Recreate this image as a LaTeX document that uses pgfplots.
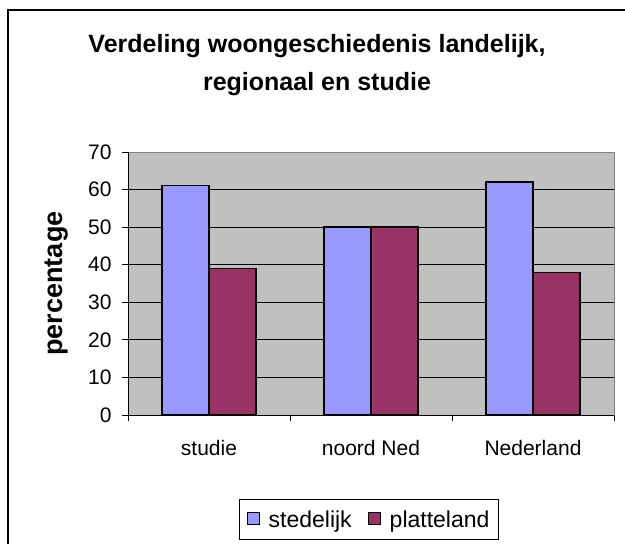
\documentclass[border=0pt]{standalone}
\usepackage{pgfplots}
\pgfplotsset{compat=1.18}
\usepackage{fontspec}
\setmainfont{Liberation Sans}
\definecolor{barblue}{HTML}{9999FF}
\definecolor{barmaroon}{HTML}{993366}
\definecolor{plotgray}{HTML}{C0C0C0}
\definecolor{bordergray}{HTML}{808080}
\begin{document}
\begin{tikzpicture}
\path[use as bounding box] (0bp,0bp) rectangle (625bp,-544bp);
\draw[black, line width=1.2bp] (8bp,-544bp) -- (8bp,-10bp) -- (625bp,-10bp);
\node[font=\fontsize{25bp}{38bp}\selectfont\bfseries, align=center] at (317bp,-65bp)
  {Verdeling woongeschiedenis landelijk,\\regionaal en studie};
\begin{axis}[
    at={(128bp,-415bp)}, anchor=south west,
    scale only axis,
    width=486bp, height=263bp,
    xmin=-0.5, xmax=2.5,
    ymin=0, ymax=70,
    ybar=0pt, bar width=47bp,
    axis background/.style={fill=plotgray},
    axis line style={draw=bordergray, line width=1bp},
    ytick={0,10,...,70},
    ymajorgrids,
    major grid style={black, line width=0.8bp},
    xtick={-0.5,0.5,1.5,2.5},
    xticklabels={},
    extra x ticks={0,1,2},
    extra x tick labels={studie,noord Ned,Nederland},
    extra x tick style={major tick length=0pt, grid=none,
        xticklabel style={yshift=-22bp}},
    tick align=outside,
    major tick length=6bp,
    tick style={black, line width=0.8bp},
    xtick pos=bottom, ytick pos=left,
    ticklabel style={font=\fontsize{21bp}{24bp}\selectfont},
    /pgf/number format/assume math mode=true,
    yticklabel style={xshift=-7bp},
    ylabel={\bfseries percentage},
    ylabel style={font=\fontsize{27bp}{30bp}\selectfont, at={(rel axis cs:0,0.5)},
        anchor=center, yshift=71bp},
    legend style={at={(0.496,-0.397)}, anchor=center, draw=black, line width=0.8bp,
        font=\fontsize{23bp}{26bp}\selectfont, legend columns=2,
        /tikz/every odd column/.append style={column sep=7bp},
        /tikz/every even column/.append style={column sep=14bp},
        inner xsep=7bp, inner ysep=9bp},
    legend image code/.code={\draw[#1, line width=1bp, draw=black] (0bp,-5bp) rectangle (12bp,7bp);},
]
\addplot[fill=barblue, draw=black, line width=1.3bp] coordinates {(0,61) (1,50) (2,62)};
\addplot[fill=barmaroon, draw=black, line width=1.3bp] coordinates {(0,39) (1,50) (2,38)};
\legend{stedelijk, platteland}
\draw[black, line width=1bp] (rel axis cs:0,1) -- (rel axis cs:0,0) -- (rel axis cs:1,0);
\end{axis}
\end{tikzpicture}
\end{document}
